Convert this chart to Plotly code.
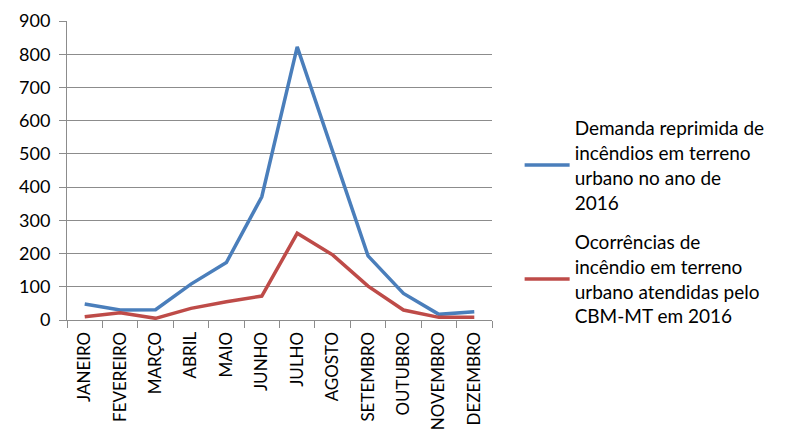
import plotly.graph_objects as go

# Monthly data, 2016
months = ["JANEIRO", "FEVEREIRO", "MARÇO", "ABRIL", "MAIO", "JUNHO",
          "JULHO", "AGOSTO", "SETEMBRO", "OUTUBRO", "NOVEMBRO", "DEZEMBRO"]
demanda_reprimida = [48, 30, 31, 108, 173, 371, 822, 505, 193, 80, 17, 25]
ocorrencias_atendidas = [10, 22, 5, 35, 55, 72, 261, 196, 102, 30, 8, 8]

name_demanda = "Demanda reprimida de<br>incêndios em terreno<br>urbano no ano de<br>2016"
name_ocorr = "Ocorrências de<br>incêndio em terreno<br>urbano atendidas pelo<br>CBM-MT em 2016"

y_ticks = list(range(0, 901, 100))

font_family = "Lato, 'Open Sans', sans-serif"
grid_color = "#8c8c8c"

fig = go.Figure()
fig.add_trace(go.Scatter(
    x=months, y=demanda_reprimida, mode="lines", name=name_demanda,
    legendgroup="a", line=dict(color="#4a7ebb", width=3.5),
))
fig.add_trace(go.Scatter(
    x=months, y=ocorrencias_atendidas, mode="lines", name=name_ocorr,
    legendgroup="b", line=dict(color="#be4b48", width=3.5),
))

fig.update_layout(
    width=786, height=430,
    margin=dict(l=67, r=294, t=21, b=110, autoexpand=False),
    paper_bgcolor="white", plot_bgcolor="white",
    font=dict(family=font_family, color="#000000"),
    showlegend=True,
    legend=dict(
        x=1.065, xanchor="left", y=0.705, yanchor="top",
        font=dict(size=19, family=font_family, color="#000000"),
        tracegroupgap=12, itemwidth=45,
        bgcolor="rgba(0,0,0,0)",
    ),
)
fig.update_xaxes(
    type="category", categoryorder="array", categoryarray=months,
    tickangle=-90, tickfont=dict(size=17, family=font_family),
    showgrid=False, showline=True, linecolor=grid_color, linewidth=1,
    ticks="outside", tickson="boundaries", ticklen=7, tickcolor=grid_color,
    ticklabelstandoff=4,
    range=[-0.5, 11.5], zeroline=False, automargin=False,
)
fig.update_yaxes(
    range=[0, 900], tickvals=y_ticks,
    tickfont=dict(size=18, family=font_family),
    showgrid=True, gridcolor=grid_color, gridwidth=1,
    showline=True, linecolor=grid_color, linewidth=1,
    ticks="outside", ticklen=7, tickcolor=grid_color,
    ticklabelstandoff=5,
    zeroline=False, automargin=False,
)

fig.write_html("out.html")
